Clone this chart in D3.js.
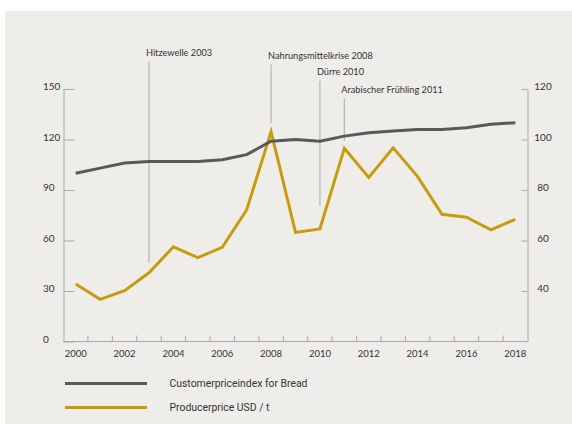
<!DOCTYPE html>
<html>
<head>
<meta charset="utf-8">
<script src="https://cdn.jsdelivr.net/npm/d3@7/dist/d3.min.js"></script>
<style>
  html, body { margin: 0; padding: 0; background: #ffffff; }
  svg { display: block; }
  text { font-family: Lato, "Open Sans", sans-serif; fill: #333; }
</style>
</head>
<body>
<svg id="chart" width="572" height="424"></svg>
<script>
// Years on the horizontal axis
const years = d3.range(2000, 2019);
const yearLabels = [2000, 2002, 2004, 2006, 2008, 2010, 2012, 2014, 2016, 2018];

// Consumer price index for bread (left axis)
const cpiBread = [100, 103, 106, 107, 107, 107, 108, 111, 119, 120, 119, 122, 124, 125, 126, 126, 127, 129, 130];

// Producer price in USD per tonne (right axis)
const producerPrice = [42.8, 36.7, 40.1, 47.2, 57.5, 53.2, 57.3, 72.1, 103.1, 63.2, 64.6, 96.5, 85.0, 96.7, 85.3, 70.4, 69.2, 64.2, 68.4];

// Axis ticks
const leftTicks = [0, 30, 60, 90, 120, 150];
const rightTicks = [40, 60, 80, 100, 120];

// Events, each with the left-axis value where its marker line ends
const eventLabels = ["Hitzewelle 2003", "Nahrungsmittelkrise 2008", "Dürre 2010", "Arabischer Frühling 2011"];
const eventYears = [2003, 2008, 2010, 2011];
const eventLineEnds = [46.8, 129.6, 80.5, 119.1];

// Legend entries
const seriesNames = ["Customerpriceindex for Bread", "Producerprice USD / t"];
const seriesColors = ["#59595b", "#c79c0c"];

// ---- layout ----
const plot = { left: 63.5, right: 527.5, top: 89, bottom: 341.5 };
const eventBaselines = [55.5, 58.5, 75, 92.5];

const svg = d3.select("#chart");

svg.append("rect")
  .attr("x", 5).attr("y", 11)
  .attr("width", 567).attr("height", 413)
  .attr("fill", "#efedea");

const x = d3.scaleBand().domain(years).range([plot.left, plot.right]).padding(0);
const cx = d => x(d) + x.bandwidth() / 2;
const yL = d3.scaleLinear().domain([0, 150]).range([plot.bottom, plot.top]);
const yR = d3.scaleLinear().domain([20, 120]).range([plot.bottom, plot.top]);

const axisColor = "#a9a9a9";

// Left axis: ticks point into the plot, labels flush left
const gL = svg.append("g").attr("transform", `translate(${plot.left},0)`)
  .call(d3.axisLeft(yL).tickValues(leftTicks).tickSize(-11).tickSizeOuter(0));
gL.select(".domain").attr("stroke", axisColor);
gL.selectAll(".tick line").attr("stroke", axisColor);
gL.selectAll(".tick text")
  .attr("x", -20.5).attr("dy", "0.05em")
  .attr("text-anchor", "start")
  .style("font-size", "10px").style("font-family", "Lato, sans-serif").attr("fill", "#333");

// Right axis
const gR = svg.append("g").attr("transform", `translate(${plot.right},0)`)
  .call(d3.axisRight(yR).tickValues(rightTicks).tickSize(-6).tickSizeOuter(0));
gR.select(".domain").attr("stroke", axisColor);
gR.selectAll(".tick line").attr("stroke", axisColor);
gR.selectAll(".tick text")
  .attr("x", 15.5).attr("dy", "0.05em")
  .attr("text-anchor", "middle")
  .style("font-size", "10px").style("font-family", "Lato, sans-serif").attr("fill", "#333");

// Bottom axis: baseline, separators between years, labels every second year
const gB = svg.append("g").attr("transform", `translate(0,${plot.bottom})`)
  .call(d3.axisBottom(x).tickValues(yearLabels).tickSize(0).tickPadding(9));
gB.select(".domain").attr("stroke", axisColor)
  .attr("d", `M${plot.left},0H${plot.right}`);
gB.selectAll(".tick text")
  .style("font-size", "9.5px").style("font-family", "Lato, sans-serif").attr("fill", "#333");
gB.selectAll(".sep")
  .data(years.slice(1))
  .join("line")
  .attr("class", "sep")
  .attr("x1", d => x(d)).attr("x2", d => x(d))
  .attr("y1", 0).attr("y2", -6)
  .attr("stroke", axisColor);

// Event markers
const ev = svg.append("g");
eventLabels.forEach((label, i) => {
  const ex = cx(eventYears[i]);
  ev.append("line")
    .attr("x1", ex).attr("x2", ex)
    .attr("y1", eventBaselines[i] + 6)
    .attr("y2", yL(eventLineEnds[i]))
    .attr("stroke", "#b9b9b9").attr("stroke-width", 1.3);
  ev.append("text")
    .attr("x", ex - 3).attr("y", eventBaselines[i])
    .style("font-size", "9.2px")
    .text(label);
});

// Series lines
const lineR = d3.line().x((d, i) => cx(years[i])).y(d => yR(d));
const lineL = d3.line().x((d, i) => cx(years[i])).y(d => yL(d));

svg.append("path").datum(producerPrice)
  .attr("d", lineR).attr("fill", "none")
  .attr("stroke", seriesColors[1]).attr("stroke-width", 3)
  .attr("stroke-linejoin", "miter");

svg.append("path").datum(cpiBread)
  .attr("d", lineL).attr("fill", "none")
  .attr("stroke", seriesColors[0]).attr("stroke-width", 3)
  .attr("stroke-linejoin", "round");

// Legend
const legendRows = [383.5, 407.5];
const lg = svg.append("g");
seriesNames.forEach((name, i) => {
  lg.append("line")
    .attr("x1", 65).attr("x2", 147)
    .attr("y1", legendRows[i]).attr("y2", legendRows[i])
    .attr("stroke", seriesColors[i]).attr("stroke-width", 3);
  lg.append("text")
    .attr("x", 169.5).attr("y", legendRows[i])
    .attr("dy", "0.35em")
    .style("font-size", "10.4px")
    .style("font-family", "Roboto, sans-serif")
    .text(name);
});
</script>
</body>
</html>
